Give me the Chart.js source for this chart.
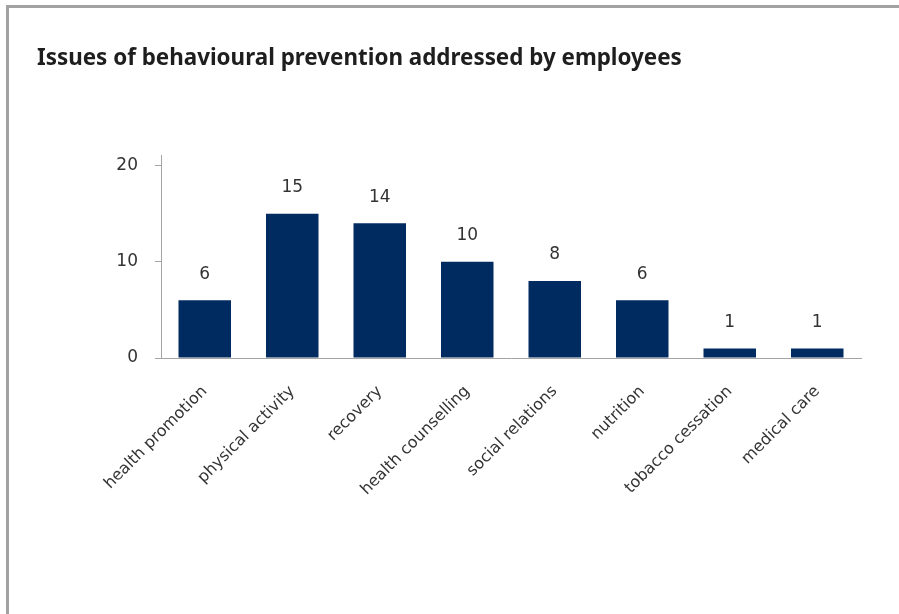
<!DOCTYPE html>
<html>
<head>
<meta charset="utf-8">
<script src="https://cdn.jsdelivr.net/npm/chart.js@4.4.1/dist/chart.umd.min.js"></script>
<style>
  html, body { margin: 0; padding: 0; background: #fff; }
  #wrap { position: relative; width: 899px; height: 614px; overflow: hidden; }
  #frame {
    position: absolute; left: 6px; top: 5px; right: -10px; bottom: -10px;
    border-left: 3px solid #a2a2a2; border-top: 3px solid #a2a2a2;
  }
  canvas { position: absolute; left: 0; top: 0; }
</style>
</head>
<body>
<div id="wrap">
  <div id="frame"></div>
  <canvas id="issuesChart" width="899" height="614"></canvas>
</div>
<script>
const categories = ["health promotion", "physical activity", "recovery", "health counselling",
    "social relations", "nutrition", "tobacco cessation", "medical care"];
const employeeCounts = [6, 15, 14, 10, 8, 6, 1, 1];
const yTickValues = [0, 10, 20];

const tickFont = { family: "DejaVu Sans", size: 17 };

// values written above each bar
const valueLabels = {
    id: "valueLabels",
    afterDatasetsDraw(chart) {
        const ctx = chart.ctx;
        const meta = chart.getDatasetMeta(0);
        ctx.save();
        ctx.font = "17px 'DejaVu Sans'";
        ctx.fillStyle = "#333333";
        ctx.textAlign = "center";
        ctx.textBaseline = "middle";
        meta.data.forEach((bar, i) => {
            ctx.fillText(String(employeeCounts[i]), bar.x, bar.y - 26);
        });
        ctx.restore();
    }
};

const ctx = document.getElementById("issuesChart");

new Chart(ctx, {
    type: "bar",
    data: {
        labels: categories,
        datasets: [
            {
                label: "Employees",
                data: employeeCounts,
                backgroundColor: "#002b60",
                barPercentage: 0.6,
                categoryPercentage: 1.0
            }
        ]
    },
    options: {
        responsive: false,
        animation: false,
        layout: {
            padding: { left: 37, right: 38, top: 0, bottom: 0 }
        },
        plugins: {
            legend: { display: false },
            tooltip: { enabled: false },
            title: {
                display: true,
                text: "Issues of behavioural prevention addressed by employees",
                align: "start",
                color: "#1e1e1e",
                font: { family: "Noto Sans", size: 22.4, weight: "bold", lineHeight: 1.2 },
                padding: { top: 45, bottom: 84.1 }
            }
        },
        scales: {
            x: {
                grid: { display: false },
                border: { display: true, color: "#a4a4a4", width: 1 },
                ticks: {
                    color: "#333333",
                    font: { family: "DejaVu Sans", size: 16 },
                    minRotation: 45,
                    maxRotation: 45,
                    autoSkip: false,
                    padding: 16
                },
                afterFit(scale) { scale.height = 256; }
            },
            y: {
                min: 0,
                max: 21,
                grid: { display: true, drawOnChartArea: false, drawTicks: true, tickLength: 6, color: "#a4a4a4", lineWidth: 1 },
                border: { display: true, color: "#a4a4a4", width: 1 },
                ticks: {
                    stepSize: 10,
                    color: "#333333",
                    font: tickFont,
                    padding: 17
                },
                afterBuildTicks(scale) {
                    scale.ticks = yTickValues.map(v => ({ value: v }));
                },
                afterFit(scale) { scale.width = 124; }
            }
        }
    },
    plugins: [valueLabels]
});
</script>
</body>
</html>
